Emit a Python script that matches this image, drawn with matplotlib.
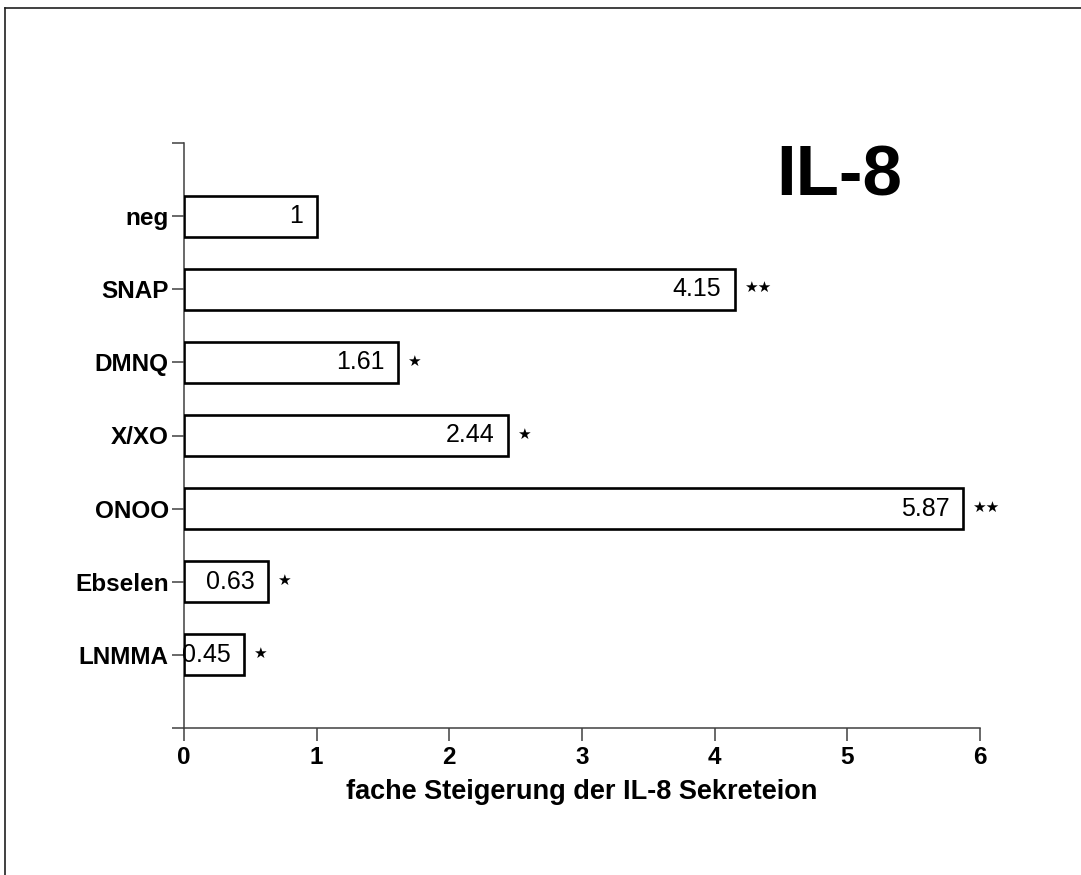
import matplotlib
matplotlib.use("Agg")
import matplotlib.pyplot as plt
from matplotlib.lines import Line2D
from matplotlib.font_manager import fontManager

categories = ["neg", "SNAP", "DMNQ", "X/XO", "ONOO", "Ebselen", "LNMMA"]
values = [1.0, 4.15, 1.61, 2.44, 5.87, 0.63, 0.45]
value_labels = ["1", "4.15", "1.61", "2.44", "5.87", "0.63", "0.45"]
stars = ["", "★★", "★", "★", "★★", "★", "★"]
x_ticks = [0, 1, 2, 3, 4, 5, 6]

names = {f.name for f in fontManager.ttflist}
base = "Liberation Sans" if "Liberation Sans" in names else "DejaVu Sans"
plt.rcParams['font.family'] = [base, 'DejaVu Sans']

W, H = 1081, 875
fig = plt.figure(figsize=(W / 100, H / 100), dpi=100)
ax = fig.add_axes([184 / W, (H - 728) / H, (980 - 184) / W, (728 - 143) / H])

ypos = list(range(len(categories)))
ax.barh(ypos, values, height=0.56, color="white", edgecolor="black", linewidth=1.9, zorder=3)

for y, v, lab, st in zip(ypos, values, value_labels, stars):
    ax.annotate(lab, (v, y), xytext=(-9.5, 0), textcoords="offset points",
                ha="right", va="center", fontsize=18, zorder=4)
    if st:
        ax.annotate(st, (v, y), xytext=(7, 1), textcoords="offset points",
                    ha="left", va="center", fontsize=11, family=["DejaVu Sans"], zorder=4)

ax.set_xlim(0, 6)
ax.set_ylim(7, -1)
ax.set_xticks(x_ticks)
ax.set_xticklabels([str(t) for t in x_ticks], fontsize=17.5, fontweight="bold")
ax.set_yticks([-1] + ypos + [7])
ax.set_yticklabels([""] + categories + [""], fontsize=17.5, fontweight="bold")
ax.tick_params(axis="y", length=9, width=1.1, color="#404040", pad=2)
ax.tick_params(axis="x", length=9, width=1.1, color="#404040", pad=4)

for s in ["top", "right"]:
    ax.spines[s].set_visible(False)
for s in ["left", "bottom"]:
    ax.spines[s].set_color("#404040")
    ax.spines[s].set_linewidth(1.1)

ax.set_xlabel("fache Steigerung der IL-8 Sekreteion", fontsize=19.5, fontweight="bold",
              labelpad=7)

ax.text(4.94, -0.53, "IL-8", fontsize=51, fontweight="bold", ha="center", va="center")

# figure border (top and left visible)
fig.add_artist(Line2D([5 / W, 5 / W], [0, 1 - 8 / H], transform=fig.transFigure,
                      color="#202020", linewidth=1.2))
fig.add_artist(Line2D([5 / W, 1], [1 - 8 / H, 1 - 8 / H], transform=fig.transFigure,
                      color="#202020", linewidth=1.2))

fig.savefig("out.png", dpi=100, facecolor="white")
